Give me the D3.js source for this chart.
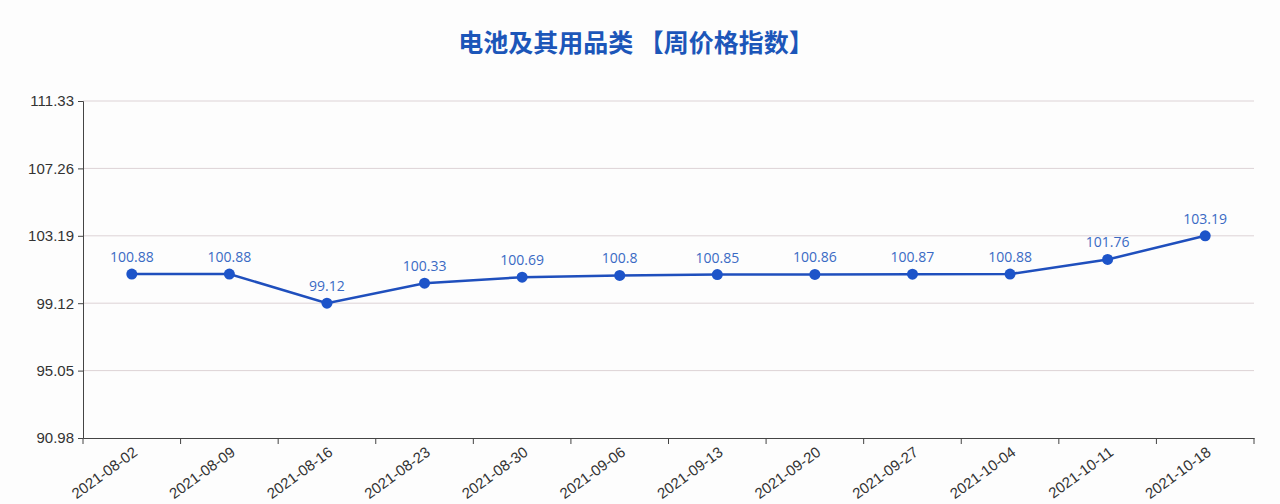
<!DOCTYPE html>
<html>
<head>
<meta charset="utf-8">
<script src="https://cdn.jsdelivr.net/npm/d3@7"></script>
<style>
  body { margin: 0; background: #fdfdfd; }
  svg { display: block; font-family: "Open Sans", "Noto Sans", sans-serif; }
</style>
</head>
<body>
<svg width="1280" height="504"></svg>
<script>
const weeks = ["2021-08-02", "2021-08-09", "2021-08-16", "2021-08-23", "2021-08-30", "2021-09-06",
               "2021-09-13", "2021-09-20", "2021-09-27", "2021-10-04", "2021-10-11", "2021-10-18"];
const indexValues = [100.88, 100.88, 99.12, 100.33, 100.69, 100.8, 100.85, 100.86, 100.87, 100.88, 101.76, 103.19];
const yTicks = [90.98, 95.05, 99.12, 103.19, 107.26, 111.33];

const svg = d3.select("svg");
const margin = { top: 101, right: 26, bottom: 66, left: 83 };
const width = +svg.attr("width") - margin.left - margin.right;
const height = +svg.attr("height") - margin.top - margin.bottom;

svg.append("text")
    .attr("x", 636)
    .attr("y", 52)
    .attr("text-anchor", "middle")
    .attr("font-family", "'Noto Sans CJK SC', sans-serif")
    .attr("font-size", 25)
    .attr("font-weight", "bold")
    .attr("fill", "#1c56b9")
    .text("电池及其用品类 【周价格指数】");

const g = svg.append("g").attr("transform", `translate(${margin.left},${margin.top})`);

const x = d3.scaleBand().domain(weeks).range([0, width]);
const y = d3.scaleLinear().domain([yTicks[0], yTicks[yTicks.length - 1]]).range([height, 0]);

// grid lines
g.append("g")
    .selectAll("line")
    .data(yTicks.slice(1))
    .join("line")
    .attr("x1", 0)
    .attr("x2", width)
    .attr("y1", d => y(d))
    .attr("y2", d => y(d))
    .attr("stroke", "#ddd3d6")
    .attr("stroke-width", 1);

// y axis
const yAxis = g.append("g")
    .call(d3.axisLeft(y).tickValues(yTicks).tickFormat(d3.format(".2f")).tickSize(5));
yAxis.select(".domain").attr("stroke", "#444");
yAxis.selectAll(".tick line").attr("stroke", "#444");
yAxis.selectAll(".tick text").attr("font-size", 15).attr("fill", "#333").attr("x", -9);

// x axis with ticks on band boundaries
const xAxis = g.append("g")
    .attr("transform", `translate(0,${height})`)
    .call(d3.axisBottom(x).tickSize(0).tickSizeOuter(0));
xAxis.select(".domain").attr("stroke", "#444");
xAxis.selectAll(".tick text")
    .attr("font-size", 15)
    .attr("fill", "#333")
    .attr("text-anchor", "end")
    .attr("dy", 0)
    .attr("transform", "translate(5,14) rotate(-36)");

g.append("g")
    .attr("transform", `translate(0,${height})`)
    .selectAll("line")
    .data(weeks.concat([null]))
    .join("line")
    .attr("x1", (d, i) => i * x.step())
    .attr("x2", (d, i) => i * x.step())
    .attr("y1", 0)
    .attr("y2", 6)
    .attr("stroke", "#444");

const cx = d => x(d) + x.bandwidth() / 2;

const line = d3.line()
    .x((d, i) => cx(weeks[i]))
    .y(d => y(d));

g.append("path")
    .datum(indexValues)
    .attr("fill", "none")
    .attr("stroke", "#1f4fbd")
    .attr("stroke-width", 2.5)
    .attr("d", line);

g.selectAll("circle.pt")
    .data(indexValues)
    .join("circle")
    .attr("class", "pt")
    .attr("cx", (d, i) => cx(weeks[i]))
    .attr("cy", d => y(d))
    .attr("r", 5.5)
    .attr("fill", "#1d54c9");

g.selectAll("text.val")
    .data(indexValues)
    .join("text")
    .attr("class", "val")
    .attr("x", (d, i) => cx(weeks[i]))
    .attr("y", d => y(d) - 12)
    .attr("text-anchor", "middle")
    .attr("font-size", 14)
    .attr("fill", "#3a6ac4")
    .text(d => d);
</script>
</body>
</html>
